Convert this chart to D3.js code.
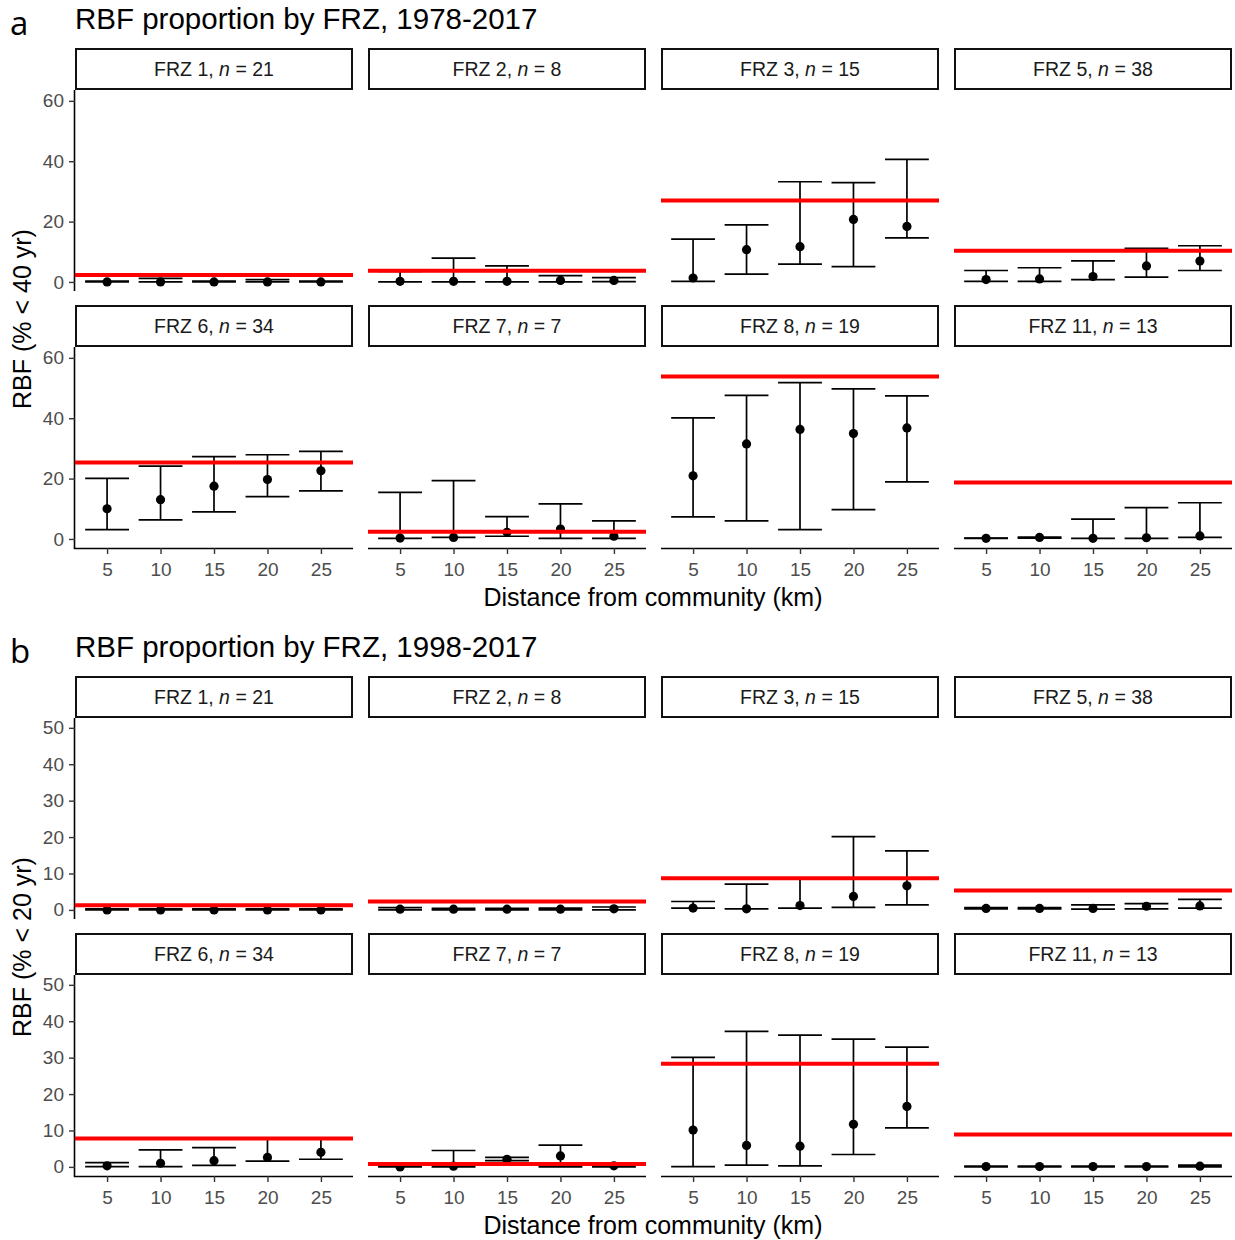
<!DOCTYPE html>
<html>
<head>
<meta charset="utf-8">
<script src="https://cdnjs.cloudflare.com/ajax/libs/d3/7.8.5/d3.min.js"></script>
<style>
  body { margin: 0; background: #fff; }
  svg text { font-family: "Liberation Sans", Arial, sans-serif; }
</style>
</head>
<body>
<div id="chart"></div>
<script>
// facets and x positions
const zones = ['FRZ 1', 'FRZ 2', 'FRZ 3', 'FRZ 5', 'FRZ 6', 'FRZ 7', 'FRZ 8', 'FRZ 11']
const zoneN = [21, 8, 15, 38, 34, 7, 19, 13]
const distances = [5, 10, 15, 20, 25]
const xTicks = [5, 10, 15, 20, 25]

// panel a: 1978-2017 (% < 40 yr)
const a40Mean = [
  [0, 0, 0, 0, 0],
  [0.2, 0.2, 0.2, 0.5, 0.5],
  [1.3, 10.7, 11.7, 20.7, 18.4],
  [0.8, 1.0, 1.8, 5.3, 6.9],
  [10.0, 13.0, 17.5, 19.7, 22.6],
  [0.3, 0.5, 2.2, 3.3, 0.9],
  [20.9, 31.5, 36.3, 34.9, 36.8],
  [0.2, 0.5, 0.2, 0.4, 1.0]
]
const a40Low = [
  [0, 0, 0, 0, 0],
  [0, 0, 0, 0, 0.1],
  [0.2, 2.6, 5.9, 5.1, 14.6],
  [0.2, 0.2, 0.8, 1.6, 3.8],
  [3.1, 6.3, 9.0, 14.0, 15.9],
  [0.2, 0.5, 0.9, 0.2, 0.2],
  [7.3, 6.0, 3.1, 9.7, 18.9],
  [0.2, 0.3, 0.2, 0.2, 0.5]
]
const a40High = [
  [0.3, 1.2, 0.3, 0.8, 0.3],
  [3.5, 7.9, 5.3, 2.1, 1.4],
  [14.2, 18.9, 33.2, 32.9, 40.6],
  [3.8, 4.7, 7.0, 11.1, 12.0],
  [20.1, 24.1, 27.3, 27.9, 29.0],
  [15.4, 19.3, 7.4, 11.6, 6.0],
  [40.1, 47.6, 51.8, 49.7, 47.4],
  [0.3, 0.6, 6.6, 10.4, 12.0]
]
const a40Ref = [2.3, 3.7, 27.0, 10.3, 25.3, 2.4, 53.8, 18.7]
const a40Ticks = [0, 20, 40, 60]

// panel b: 1998-2017 (% < 20 yr)
const b20Mean = [
  [0, 0, 0, 0, 0],
  [0.2, 0.2, 0.2, 0.2, 0.3],
  [0.5, 0.3, 1.2, 3.7, 6.6],
  [0.4, 0.4, 0.4, 1.0, 1.1],
  [0.3, 1.0, 1.7, 2.6, 4.0],
  [0, 0.2, 2.1, 3.0, 0.3],
  [10.1, 5.9, 5.7, 11.7, 16.6],
  [0.1, 0.1, 0.1, 0.1, 0.2]
]
const b20Low = [
  [0, 0, 0, 0, 0],
  [0, 0, 0, 0, 0],
  [0.5, 0.3, 0.5, 0.7, 1.4],
  [0.3, 0.3, 0.2, 0.3, 0.5],
  [0.1, 0.1, 0.4, 1.6, 2.1],
  [0, 0, 1.7, 0, 0],
  [0.1, 0.5, 0.3, 3.4, 10.7],
  [0, 0, 0, 0, 0]
]
const b20High = [
  [0.3, 0.3, 0.3, 0.3, 0.3],
  [0.6, 0.4, 0.4, 0.5, 0.8],
  [2.3, 7.1, 8.6, 20.1, 16.2],
  [0.6, 0.6, 1.4, 1.7, 2.9],
  [1.2, 4.7, 5.3, 7.6, 7.6],
  [0.2, 4.5, 2.6, 6.0, 0.5],
  [30.1, 37.2, 36.2, 35.1, 32.9],
  [0.2, 0.2, 0.2, 0.2, 0.5]
]
const b20Ref = [1.3, 2.3, 8.7, 5.3, 7.8, 0.8, 28.3, 8.9]
const b20Ticks = [0, 10, 20, 30, 40, 50]

const W = 1235, H = 1240
const svg = d3.select('#chart').append('svg')
  .attr('width', W).attr('height', H)

// layout
const colX = [75, 368, 661, 954]
const panelW = 278
const stripH = 42
const panelH = 201
const capW = 4.1

const x = d3.scaleLinear().domain([2, 28]).range([0, panelW])

function styleAxis(a) {
  a.selectAll('.tick line').attr('stroke', '#333').attr('stroke-width', 1.4)
  a.selectAll('.tick text').attr('fill', '#4d4d4d')
    .style('font-size', '19px').style('font-family', '"Liberation Sans", Arial, sans-serif')
}

function drawBlock(top, tag, title, yLabel, yDomain, yTicks, mean, low, high, ref) {
  const g = svg.append('g').attr('transform', 'translate(0,' + top + ')')

  g.append('text')
    .attr('x', 10).attr('y', 35)
    .style('font-family', '"Open Sans", sans-serif')
    .style('font-size', '33px')
    .text(tag)
  g.append('text')
    .attr('x', 75).attr('y', 29)
    .style('font-size', '29.5px')
    .text(title)

  const y = d3.scaleLinear().domain(yDomain).range([panelH, 0])

  zones.forEach(function(z, i) {
    const row = Math.floor(i / 4), col = i % 4
    const stripTop = 48 + row * 257
    const px = colX[col], py = stripTop + stripH
    const p = g.append('g').attr('transform', 'translate(' + px + ',' + py + ')')

    // strip
    g.append('rect')
      .attr('x', px + 1).attr('y', stripTop + 1)
      .attr('width', panelW - 2).attr('height', stripH - 2)
      .attr('fill', '#fff').attr('stroke', '#111').attr('stroke-width', 2)
    const st = g.append('text')
      .attr('x', px + panelW / 2).attr('y', stripTop + stripH / 2 + 7)
      .attr('text-anchor', 'middle')
      .style('font-size', '19.5px').attr('fill', '#1a1a1a')
    st.append('tspan').text(z + ', ')
    st.append('tspan').style('font-style', 'italic').text('n')
    st.append('tspan').text(' = ' + zoneN[i])

    // axes
    if (col === 0) {
      p.append('g')
        .call(d3.axisLeft(y).tickValues(yTicks).tickSize(6).tickPadding(5))
        .call(function(a) {
          a.select('.domain').attr('stroke', '#000').attr('stroke-width', 1.6)
            .attr('d', 'M-0.5,0V' + panelH)
          styleAxis(a)
        })
    }
    if (row === 1) {
      p.append('g')
        .attr('transform', 'translate(0,' + panelH + ')')
        .call(d3.axisBottom(x).tickValues(xTicks).tickSize(6).tickPadding(9))
        .call(function(a) {
          a.select('.domain').attr('stroke', '#000').attr('stroke-width', 1.6)
            .attr('d', 'M' + (col === 0 ? -1.3 : 0) + ',0.5H' + panelW)
          styleAxis(a)
        })
    }

    const pts = distances.map(function(d, j) {
      return { d: d, m: mean[i][j], lo: low[i][j], hi: high[i][j] }
    })

    // error bars
    const eb = p.selectAll('.eb').data(pts).enter().append('g')
      .attr('stroke', '#000').attr('stroke-width', 1.7).attr('fill', 'none')
    eb.append('line')
      .attr('x1', function(d) { return x(d.d) }).attr('x2', function(d) { return x(d.d) })
      .attr('y1', function(d) { return y(d.lo) }).attr('y2', function(d) { return y(d.hi) })
    eb.append('line')
      .attr('x1', function(d) { return x(d.d - capW / 2) }).attr('x2', function(d) { return x(d.d + capW / 2) })
      .attr('y1', function(d) { return y(d.hi) }).attr('y2', function(d) { return y(d.hi) })
    eb.append('line')
      .attr('x1', function(d) { return x(d.d - capW / 2) }).attr('x2', function(d) { return x(d.d + capW / 2) })
      .attr('y1', function(d) { return y(d.lo) }).attr('y2', function(d) { return y(d.lo) })

    p.selectAll('circle').data(pts).enter().append('circle')
      .attr('cx', function(d) { return x(d.d) })
      .attr('cy', function(d) { return y(d.m) })
      .attr('r', 4.6).attr('fill', '#000')

    // reference line
    p.append('line')
      .attr('x1', 0).attr('x2', panelW)
      .attr('y1', y(ref[i])).attr('y2', y(ref[i]))
      .attr('stroke', '#ff0000').attr('stroke-width', 4)
  })

  // axis titles
  g.append('text')
    .attr('x', 653).attr('y', 606)
    .attr('text-anchor', 'middle')
    .style('font-size', '25px')
    .text('Distance from community (km)')
  g.append('text')
    .attr('transform', 'translate(31,' + 319 + ') rotate(-90)')
    .attr('text-anchor', 'middle')
    .style('font-size', '25px')
    .text(yLabel)
}

drawBlock(0, 'a', 'RBF proportion by FRZ, 1978-2017', 'RBF (% < 40 yr)',
  [-3.0, 63.6], a40Ticks, a40Mean, a40Low, a40High, a40Ref)
drawBlock(628, 'b', 'RBF proportion by FRZ, 1998-2017', 'RBF (% < 20 yr)',
  [-2.5, 52.7], b20Ticks, b20Mean, b20Low, b20High, b20Ref)
</script>
</body>
</html>
